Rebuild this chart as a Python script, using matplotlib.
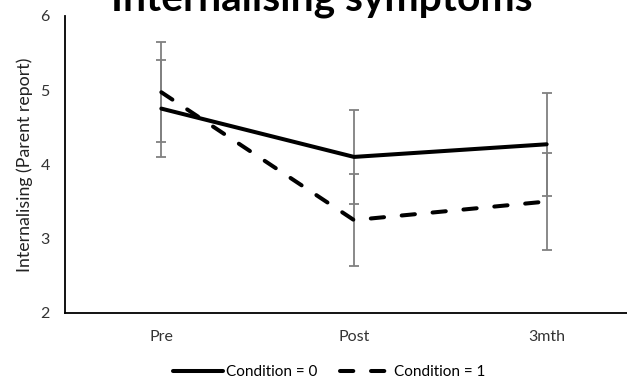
import matplotlib
matplotlib.use("Agg")
import matplotlib.pyplot as plt
import numpy as np

categories = ["Pre", "Post", "3mth"]
cond0_mean = [4.75, 4.10, 4.27]
cond0_err = [0.65, 0.63, 0.69]
cond1_mean = [4.97, 3.25, 3.50]
cond1_err = [0.67, 0.62, 0.65]
yticks = [2, 3, 4, 5, 6]

plt.rcParams['font.family'] = ['Lato', 'DejaVu Sans']

W, H = 627, 383
fig = plt.figure(figsize=(W/100, H/100), dpi=100)
ax = fig.add_axes([65/W, 1-313/H, (643-65)/W, (313-15.7)/H])

x = np.arange(len(categories))
ebc = '#808080'
ax.errorbar(x, cond0_mean, yerr=cond0_err, fmt='none', ecolor=ebc, elinewidth=1.3,
            capsize=3.5, capthick=1.3, zorder=2)
ax.errorbar(x, cond1_mean, yerr=cond1_err, fmt='none', ecolor=ebc, elinewidth=1.3,
            capsize=3.5, capthick=1.3, zorder=2)
ax.plot(x, cond0_mean, color='black', lw=2.9, solid_capstyle='round', zorder=3,
        label='Condition = 0')
ax.plot(x, cond1_mean, color='black', lw=2.9, linestyle=(0, (3.3, 4.4)),
        dash_capstyle='round', zorder=3, label='Condition = 1')

ax.set_xlim(-0.5, 2.5)
ax.set_ylim(2, 6)
ax.set_yticks(yticks)
ax.set_xticks(x)
ax.set_xticklabels(categories)
ax.tick_params(axis='both', length=0, labelsize=11.5, colors='#333333')
ax.tick_params(axis='y', pad=11)
ax.tick_params(axis='x', pad=12)
for s in ['top', 'right']:
    ax.spines[s].set_visible(False)
for s in ['left', 'bottom']:
    ax.spines[s].set_linewidth(1.3)
    ax.spines[s].set_color('black')

fig.text(25/W, 1-165/H, 'Internalising (Parent report)', rotation=90,
         ha='center', va='center', fontsize=12.8, color='#222222')

fig.text(322/W, 1-11/H, 'Internalising symptoms', ha='center', va='baseline',
         fontsize=29.3, fontweight='bold', color='black')

leg = fig.legend(loc='center', bbox_to_anchor=(329/W, 1-372/H), ncol=2, frameon=False,
                 fontsize=11, handlelength=3.3, columnspacing=1.5, handletextpad=0.2,
                 borderaxespad=0)
fig.savefig('out.png', dpi=100)
